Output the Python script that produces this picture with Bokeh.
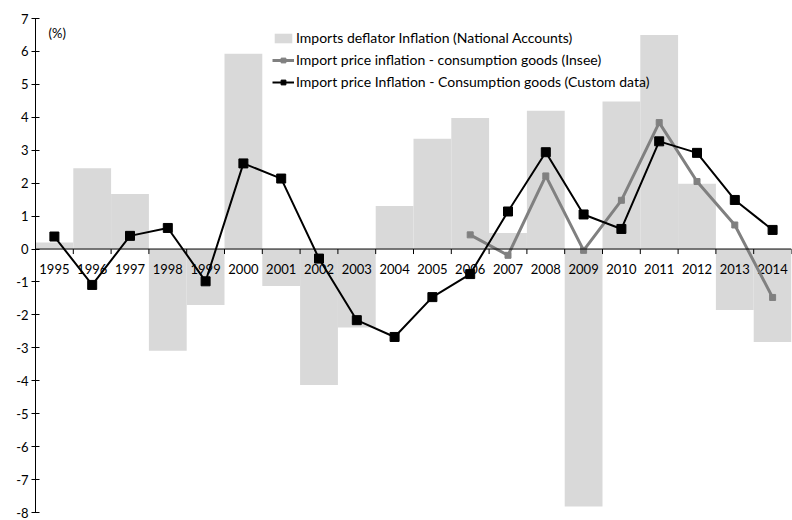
import math
from bokeh.plotting import figure
from bokeh.models import (ColumnDataSource, FactorRange, Span, FixedTicker, Legend,
                          LegendItem, Label)
from bokeh.transform import dodge
from bokeh.core.properties import value
from bokeh.embed import file_html
from bokeh.resources import INLINE

years = ["1995", "1996", "1997", "1998", "1999", "2000", "2001", "2002", "2003", "2004",
         "2005", "2006", "2007", "2008", "2009", "2010", "2011", "2012", "2013", "2014"]
deflator = [0.2, 2.45, 1.67, -3.09, -1.70, 5.93, -1.12, -4.13, -2.38, 1.31,
            3.35, 3.98, 0.49, 4.2, -7.82, 4.48, 6.5, 1.98, -1.85, -2.82]
custom = [0.38, -1.09, 0.40, 0.64, -0.98, 2.60, 2.14, -0.29, -2.16, -2.67,
          -1.46, -0.76, 1.14, 2.94, 1.05, 0.61, 3.27, 2.92, 1.49, 0.58]
insee_years = ["2006", "2007", "2008", "2009", "2010", "2011", "2012", "2013", "2014"]
insee = [0.43, -0.19, 2.22, -0.04, 1.48, 3.84, 2.05, 0.73, -1.47]
y_ticks = list(range(-8, 8))

FONT = "Lato"

src = ColumnDataSource(dict(year=years, deflator=deflator, custom=custom))
src_insee = ColumnDataSource(dict(year=insee_years, insee=insee))

p = figure(x_range=FactorRange(*years, range_padding=0), y_range=(-8, 7),
           frame_width=756, frame_height=494,
           min_border_left=35, min_border_right=1, min_border_top=18, min_border_bottom=8,
           x_axis_location=None, output_backend="svg", toolbar_location=None)
p.outline_line_color = None
p.xgrid.visible = False
p.ygrid.visible = False
p.background_fill_color = "white"
p.border_fill_color = "white"

bars = p.vbar(x="year", top="deflator", bottom=0, width=1.0, source=src,
              fill_color="#d9d9d9", line_color=None)

# category axis drawn at zero
p.add_layout(Span(location=0, dimension="width", line_color="black", line_width=1))
p.ray(x=dodge("year", 0.5, range=p.x_range), y=0, length=5, length_units="screen",
      angle=-math.pi / 2, source=src, line_color="black", line_width=1)
p.text(x="year", y=0, text="year", source=src, text_font=value(FONT),
       text_font_size=value("13px"), text_align="center", text_baseline="middle",
       y_offset=20, text_color="black")

l_insee = p.line(x="year", y="insee", source=src_insee, line_color="#808080", line_width=3)
s_insee = p.scatter(x="year", y="insee", source=src_insee, marker="square", size=6,
                    fill_color="#808080", line_color="#808080")
l_custom = p.line(x="year", y="custom", source=src, line_color="black", line_width=2)
s_custom = p.scatter(x="year", y="custom", source=src, marker="square", size=9,
                     fill_color="black", line_color="black")

ya = p.yaxis[0]
ya.ticker = FixedTicker(ticks=y_ticks)
ya.major_label_overrides = {t: str(t) for t in y_ticks}
ya.axis_line_color = "black"
ya.major_tick_line_color = "black"
ya.major_tick_in = 4
ya.major_tick_out = 4
ya.minor_tick_line_color = None
ya.major_label_standoff = 3
ya.major_label_text_font = FONT
ya.major_label_text_font_size = "13px"
ya.major_label_text_color = "black"

p.add_layout(Label(x=13, y=480, x_units="screen", y_units="screen", text="(%)",
                   text_font=FONT, text_font_size="13px", text_baseline="middle",
                   text_color="black"))

legend = Legend(items=[
    LegendItem(label="Imports deflator Inflation (National Accounts)", renderers=[bars]),
    LegendItem(label="Import price inflation - consumption goods (Insee)", renderers=[l_insee, s_insee]),
    LegendItem(label="Import price Inflation - Consumption goods (Custom data)", renderers=[l_custom, s_custom]),
], location=(237, 422), orientation="vertical")
legend.label_text_font = FONT
legend.label_text_font_size = "14px"
legend.label_text_color = "black"
legend.glyph_width = 22
legend.glyph_height = 12
legend.label_height = 16
legend.spacing = 5
legend.padding = 0
legend.margin = 0
legend.label_standoff = 2
legend.border_line_color = None
legend.background_fill_alpha = 0
p.add_layout(legend, "center")

open("out.html", "w").write(file_html(p, INLINE))
